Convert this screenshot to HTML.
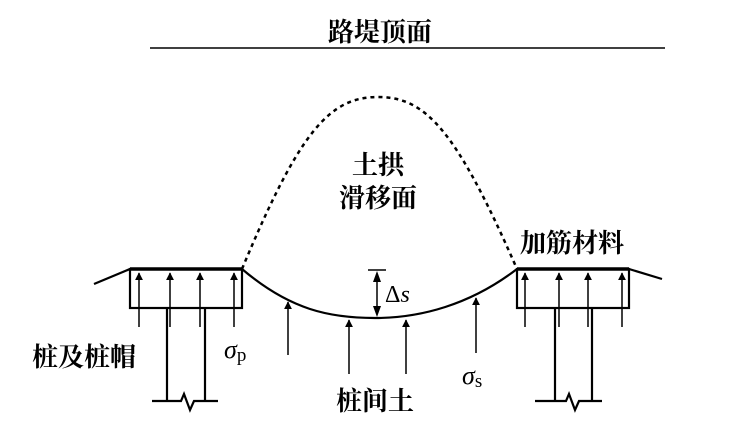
<!DOCTYPE html>
<html><head><meta charset="utf-8"><style>
body{margin:0;background:#fff;}
svg{display:block;}
.cn{font-family:"Liberation Serif","Noto Serif CJK SC",serif;font-weight:bold;font-size:26px;fill:#000;}
.it{font-family:"Liberation Serif",serif;font-style:italic;font-size:26px;}
.rm{font-family:"Liberation Serif",serif;font-size:19px;}
</style></head><body>
<svg width="735" height="432" viewBox="0 0 735 432" xmlns="http://www.w3.org/2000/svg">
<defs>
<marker id="a" viewBox="0 0 10 10" refX="9" refY="5" markerWidth="8" markerHeight="10" markerUnits="userSpaceOnUse" orient="auto">
<path d="M0,0 L10,5 L0,10 z" fill="#000"/></marker>
</defs>
<text class="cn" x="380" y="41" text-anchor="middle">路堤顶面</text>
<line x1="150" y1="48" x2="665" y2="48" stroke="#000" stroke-width="1.5"/>
<path d="M242,269 C300,130 330,97 378,97 C426,97 456,130 517,269" fill="none" stroke="#000" stroke-width="2.5" stroke-dasharray="4,4"/>
<text class="cn" x="378" y="174" text-anchor="middle">土拱</text>
<text class="cn" x="378" y="207" text-anchor="middle">滑移面</text>
<text class="cn" x="572" y="252" text-anchor="middle">加筋材料</text>
<line x1="94" y1="284" x2="130" y2="269" stroke="#000" stroke-width="2.2"/>
<line x1="629" y1="269" x2="662" y2="279" stroke="#000" stroke-width="2.2"/>
<path d="M242,269 C290,310 330,318 375,318 C420,318 470,305 517,269" fill="none" stroke="#000" stroke-width="2.2"/>
<rect x="130" y="269" width="112" height="39" fill="none" stroke="#000" stroke-width="2.2"/>
<line x1="130" y1="269" x2="242" y2="269" stroke="#000" stroke-width="3.5"/>
<line x1="167" y1="308" x2="167" y2="401" stroke="#000" stroke-width="2.2"/>
<line x1="205" y1="308" x2="205" y2="401" stroke="#000" stroke-width="2.2"/>
<path d="M152,401 H181 L184,394 L190,410 L194,401 H218" fill="none" stroke="#000" stroke-width="2.2"/>
<rect x="517" y="269" width="112" height="39" fill="none" stroke="#000" stroke-width="2.2"/>
<line x1="517" y1="269" x2="629" y2="269" stroke="#000" stroke-width="3.5"/>
<line x1="555" y1="308" x2="555" y2="401" stroke="#000" stroke-width="2.2"/>
<line x1="592" y1="308" x2="592" y2="401" stroke="#000" stroke-width="2.2"/>
<path d="M535,401 H566 L569,394 L575,410 L579,401 H602" fill="none" stroke="#000" stroke-width="2.2"/>
<g stroke="#000" stroke-width="1.5" marker-end="url(#a)">
<line x1="139" y1="327" x2="139" y2="273"/>
<line x1="170" y1="327" x2="170" y2="273"/>
<line x1="200" y1="327" x2="200" y2="273"/>
<line x1="234" y1="327" x2="234" y2="273"/>
<line x1="525" y1="327" x2="525" y2="273"/>
<line x1="559" y1="327" x2="559" y2="273"/>
<line x1="588" y1="327" x2="588" y2="273"/>
<line x1="622" y1="327" x2="622" y2="273"/>
<line x1="288" y1="355" x2="288" y2="302"/>
<line x1="349" y1="374" x2="349" y2="320"/>
<line x1="406" y1="374" x2="406" y2="320"/>
<line x1="476" y1="353" x2="476" y2="298"/>
</g>
<line x1="368" y1="270" x2="386" y2="270" stroke="#000" stroke-width="1.5"/>
<line x1="377" y1="280" x2="377" y2="308" stroke="#000" stroke-width="1.5"/>
<path d="M373,282 L377,271 L381,282 z M373,306 L377,317 L381,306 z" fill="#000"/>
<text x="385" y="302"><tspan class="rm" style="font-size:24px">Δ</tspan><tspan class="it" style="font-size:24px">s</tspan></text>
<text x="224" y="358"><tspan class="it">σ</tspan><tspan class="rm" dy="3">p</tspan></text>
<text x="462" y="384"><tspan class="it">σ</tspan><tspan class="rm" dy="3">s</tspan></text>
<text class="cn" x="84" y="366" text-anchor="middle">桩及桩帽</text>
<text class="cn" x="375" y="410" text-anchor="middle">桩间土</text>
</svg>
</body></html>
